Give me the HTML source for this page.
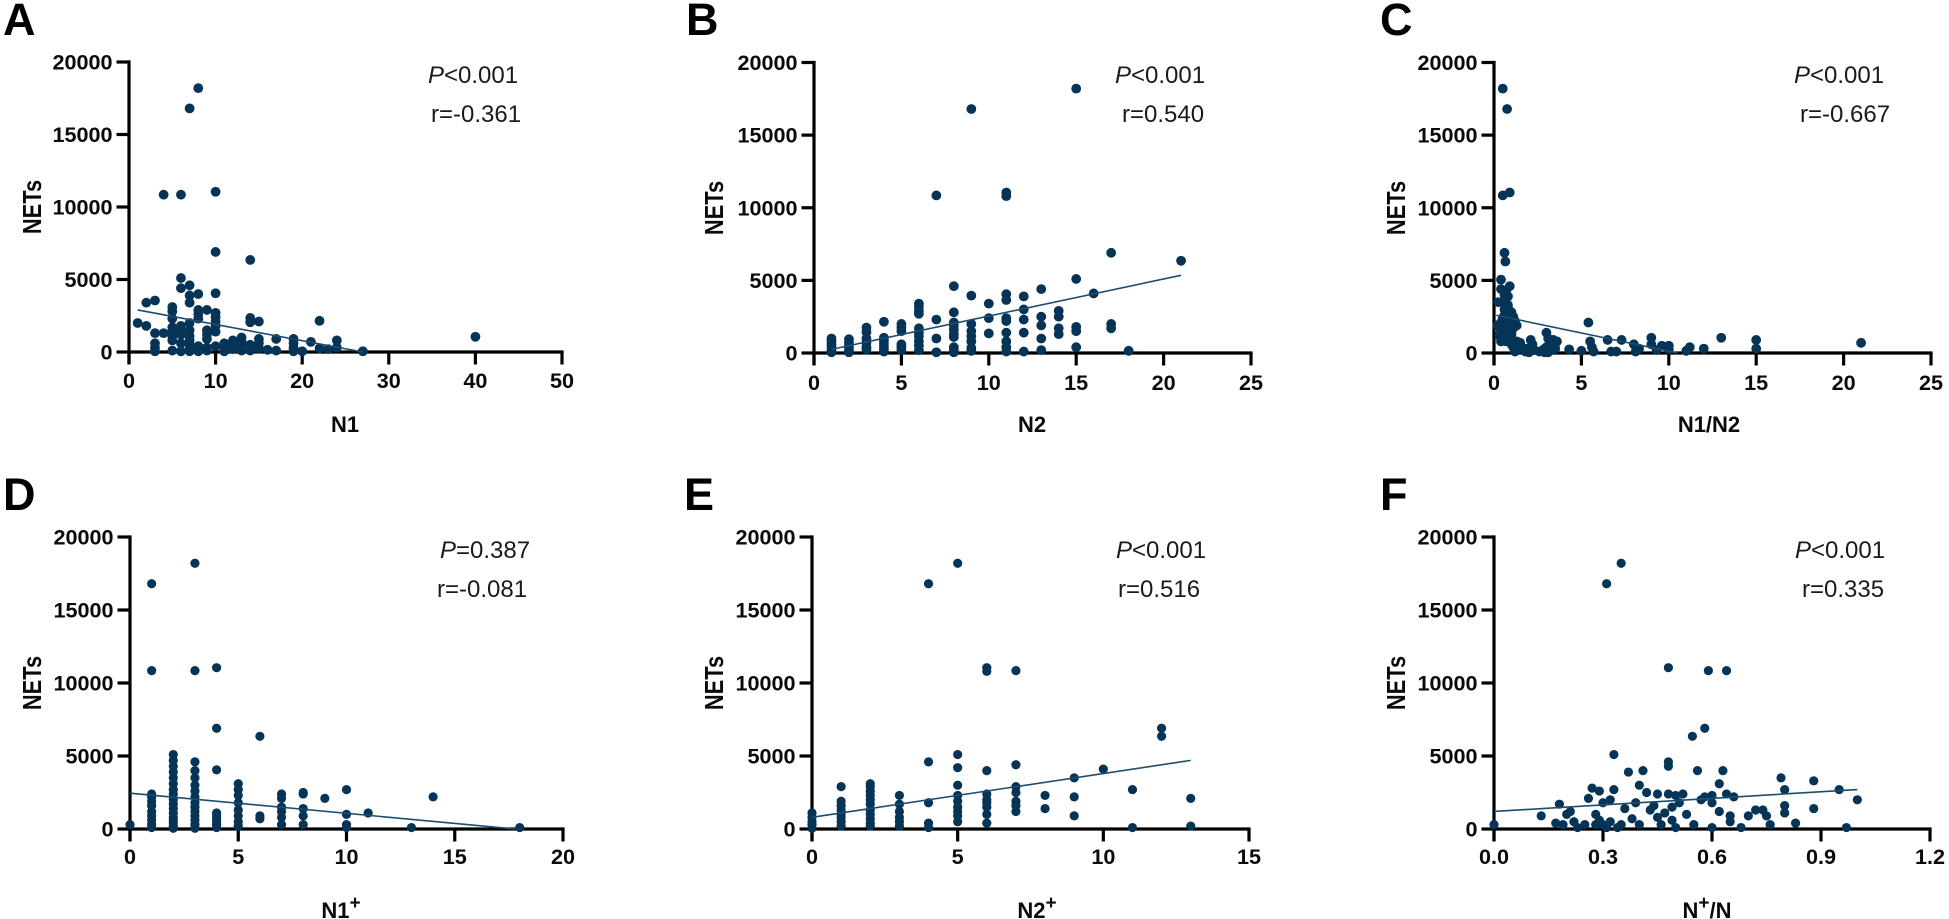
<!DOCTYPE html>
<html lang="en">
<head>
<meta charset="utf-8">
<title>NETs correlation scatter plots</title>
<style>
html,body{margin:0;padding:0;background:#fff;width:1949px;height:919px;overflow:hidden}
svg{display:block}
text{font-family:"Liberation Sans",Arial,sans-serif;fill:#0a0a0a}
.letter{font-size:45px;font-weight:700;fill:#000}
.ytitle{font-size:26px;font-weight:700}
.xtitle{font-size:22px;font-weight:700}
.tick{font-size:21.6px;font-weight:700}
.note{font-size:24px;fill:#1a1a1a}
.note .p{font-style:italic}
</style>
</head>
<body>
<svg id="figure" width="1949" height="919" viewBox="0 0 1949 919" xmlns="http://www.w3.org/2000/svg">
  <rect width="1949" height="919" fill="#fff"/>

  <g id="panel-a">
    <text class="letter" x="3" y="35">A</text>
    <text class="ytitle" transform="translate(41,207) rotate(-90) scale(0.84,1)" text-anchor="middle">NETs</text>
    <text class="xtitle" x="345" y="432" text-anchor="middle">N1</text>
    <text class="note" x="428" y="83"><tspan class="p">P</tspan>&lt;0.001</text>
    <text class="note" x="431" y="122">r=-0.361</text>
  </g>

  <g id="panel-b">
    <text class="letter" x="686" y="35">B</text>
    <text class="ytitle" transform="translate(723,208) rotate(-90) scale(0.84,1)" text-anchor="middle">NETs</text>
    <text class="xtitle" x="1032" y="432" text-anchor="middle">N2</text>
    <text class="note" x="1115" y="83"><tspan class="p">P</tspan>&lt;0.001</text>
    <text class="note" x="1122" y="122">r=0.540</text>
  </g>

  <g id="panel-c">
    <text class="letter" x="1380" y="35">C</text>
    <text class="ytitle" transform="translate(1405,208) rotate(-90) scale(0.84,1)" text-anchor="middle">NETs</text>
    <text class="xtitle" x="1709" y="432" text-anchor="middle">N1/N2</text>
    <text class="note" x="1794" y="83"><tspan class="p">P</tspan>&lt;0.001</text>
    <text class="note" x="1800" y="122">r=-0.667</text>
  </g>

  <g id="panel-d">
    <text class="letter" x="3" y="510">D</text>
    <text class="ytitle" transform="translate(41,683) rotate(-90) scale(0.84,1)" text-anchor="middle">NETs</text>
    <text class="xtitle" x="341" y="918" text-anchor="middle">N1<tspan dy="-9" font-size="19">+</tspan></text>
    <text class="note" x="440" y="558"><tspan class="p">P</tspan>=0.387</text>
    <text class="note" x="437" y="597">r=-0.081</text>
  </g>

  <g id="panel-e">
    <text class="letter" x="684" y="510">E</text>
    <text class="ytitle" transform="translate(723,683) rotate(-90) scale(0.84,1)" text-anchor="middle">NETs</text>
    <text class="xtitle" x="1037" y="918" text-anchor="middle">N2<tspan dy="-9" font-size="19">+</tspan></text>
    <text class="note" x="1116" y="558"><tspan class="p">P</tspan>&lt;0.001</text>
    <text class="note" x="1118" y="597">r=0.516</text>
  </g>

  <g id="panel-f">
    <text class="letter" x="1380" y="510">F</text>
    <text class="ytitle" transform="translate(1405,683) rotate(-90) scale(0.84,1)" text-anchor="middle">NETs</text>
    <text class="xtitle" x="1707" y="918" text-anchor="middle">N<tspan dy="-9" font-size="19">+</tspan><tspan dy="9">/N</tspan></text>
    <text class="note" x="1795" y="558"><tspan class="p">P</tspan>&lt;0.001</text>
    <text class="note" x="1802" y="597">r=0.335</text>
  </g>
</svg>

<script>
// ---- shared y axis ----
const netsTicks = [0, 5000, 10000, 15000, 20000];

// ---- panel A: N1 ----
const xTicksA = [0, 10, 20, 30, 40, 50];
const n1X = [
  1, 2,2, 3,3,3,3,3, 4,4,
  5,5,5,5,5,5,5,5,
  6,6,6,6,6,6,6,6,
  7,7,7,7,7,7,7,7,7,7,7,
  8,8,8,8,8,8,8,8,
  9,9,9,9,9,9,
  10,10,10,10,10,10,10,10,10,
  11,11,11, 12,12,12, 13,13,13,13,
  14,14,14,14,14, 15,15,15,15, 16, 17,17,
  19,19,19,19, 20, 21, 22,22, 23, 24,24, 27, 40
];
const n1Nets = [
  2000, 1800,3400, 3550,1300,600,300,50, 10850,1300,
  3100,2800,2300,1700,1400,1100,800,100,
  10850,5100,4400,1800,1500,1200,600,50,
  16800,4600,3900,3400,2000,1500,1100,800,500,200,50,
  18200,4000,2900,2600,2300,400,150,50,
  2900,1500,1200,900,300,100,
  11050,6900,4050,2700,2400,2100,1800,1400,400,
  50,350,600, 200,500,800, 1000,700,400,100,
  6350,2350,2050,500,100, 2100,900,600,250, 150, 100,900,
  900,600,300,50, 50, 700, 2150,250, 200, 800,300, 50, 1050
];
const fitXA = [1, 27];
const fitYA = [2900, 0];

// ---- panel B: N2 ----
const xTicksB = [0, 5, 10, 15, 20, 25];
const n2X = [
  1,1,1,1,1,1, 2,2,2,2,2,2, 3,3,3,3,3,3, 4,4,4,4,4,4,4,
  5,5,5,5,5,5, 6,6,6,6,6,6,6,6,6,6, 7,7,7,7,
  8,8,8,8,8,8,8,8,8,8, 9,9,9,9,9,9,9,9, 10,10,10,
  11,11,11,11,11,11,11,11,11,11,
  12,12,12,12,12, 13,13,13,13,13, 14,14,14,14,
  15,15,15,15,15, 16, 17,17,17, 18, 21
];
const n2Nets = [
  1000,800,600,400,200,50, 950,750,550,350,150,50, 1750,1450,1000,700,400,250, 2150,1050,850,650,450,250,100,
  2000,1750,1500,600,400,200, 3400,3200,2900,2700,1700,1400,1150,800,500,200, 10850,2300,1000,50,
  4600,2800,2100,1900,1600,1300,1100,400,200,50, 16800,3950,2000,1500,1150,800,350,150, 3400,2400,1350,
  11050,10800,4050,3650,2400,2200,1400,800,400,100,
  3900,3000,2300,1400,100, 4400,2500,1900,1000,200, 2900,2500,1700,1300,
  18200,5100,1800,1500,400, 4100, 6900,2000,1700, 150, 6350
];
const fitXB = [1, 21];
const fitYB = [250, 5350];

// ---- panel C: N1/N2 ----
const xTicksC = [0, 5, 10, 15, 20, 25];
const ratioX = [
  0.5,0.75,0.5,0.9,0.6,0.65,0.4,0.9,0.4,0.7,0.6,0.8,0.25,0.5,0.7,0.8,0.6,0.9,1.0,0.6,0.8,1.1,
  0.5,0.7,0.9,1.2,0.4,0.7,1.0,1.2,1.3,0.2,0.5,0.8,1.1,0.4,0.7,1.0,0.3,0.6,0.9,0.4,0.7,
  1.0,1.1,1.2,1.3,1.5,1.5,1.8,1.9,2.0,2.1,2.2,2.3,2.0,2.6,2.8,2.9,3.0,3.0,3.0,3.1,3.2,3.3,3.3,3.4,3.5,3.5,3.6,2.9,3.1,4.3,
  5.4,5.0,5.5,5.6,5.7,6.5,6.7,7,7.3,8,8.3,8.1,9,9,9.3,9.6,10,10,11,11.2,12,13,15,15,21
];
const ratioNets = [
  18200,16800,10850,11050,6900,6300,5050,4600,4400,4300,4000,3900,3500,3500,3400,3300,3000,2900,2800,2600,2500,2500,
  2400,2300,2200,2200,2100,2000,2000,1900,1900,1900,1800,1700,1700,1500,1400,1300,1200,1100,1100,800,800,
  600,400,100,800,700,300,100,300,100,900,600,200,50,100,200,300,1400,400,100,1000,700,500,200,900,600,300,800,50,50,250,
  2100,150,800,400,100,900,100,100,900,600,300,100,1050,600,200,500,500,250,150,400,300,1050,900,300,700
];
const fitXC = [0.13, 10.5];
const fitYC = [2600, 0];

// ---- panel D: N1+ ----
const xTicksD = [0, 5, 10, 15, 20];
const n1PosX = [
  0, 1,1,1,1,1,1,1,1,1,1,1,
  2,2,2,2,2,2,2,2,2,2,2,2,2,2,2,2,2,
  3,3,3,3,3,3,3,3,3,3,3,3,3,3,3,
  4,4,4,4,4,4,4,4,4,
  5,5,5,5,5,5,5,5, 6,6,6,
  7,7,7,7,7,7, 8,8,8,8,8, 9, 10,10,10,10, 11, 13, 14, 18
];
const n1PosNets = [
  300, 16800,10850,2400,2200,1900,1600,1200,900,600,300,100,
  5100,4700,4300,3900,3500,3100,2700,2400,2000,1700,1400,1100,800,600,400,200,50,
  18200,10850,4600,4000,3500,3000,2600,2200,1800,1500,1200,900,600,300,50,
  11050,6900,4050,1100,900,700,500,300,100,
  3100,2700,2300,1800,1300,900,500,200, 6350,900,700,
  2400,2100,1500,1200,800,300, 2500,2400,1400,900,300, 2100, 2700,1000,300,100, 1100, 100, 2200, 100
];
const fitXD = [0, 17.8];
const fitYD = [2450, 0];

// ---- panel E: N2+ ----
const xTicksE = [0, 5, 10, 15];
const n2PosX = [
  0,0,0,0,0, 1,1,1,1,1,1,1,1,
  2,2,2,2,2,2,2,2,2,2,2, 3,3,3,3,3,3,
  4,4,4,4,4, 5,5,5,5,5,5,5,5,5,5,
  6,6,6,6,6,6,6,6,6, 7,7,7,7,7,7,7,
  8,8, 9,9,9, 10, 11,11, 12,12, 13,13
];
const n2PosNets = [
  1100,800,500,300,50, 2900,1900,1600,1300,1000,800,500,200,
  3100,2900,2600,2300,2000,1700,1300,1000,700,400,200, 2300,1700,1200,800,500,200,
  16800,4600,1800,400,100, 18200,5100,4200,3000,2300,1900,1500,1200,900,500,
  11050,10800,4000,2400,2000,1800,1500,1000,400, 10850,4400,2900,2500,1900,1600,1200,
  2300,1400, 3500,2200,900, 4100, 2700,100, 6900,6350, 2100,200
];
const fitXE = [0, 13];
const fitYE = [800, 4700];

// ---- panel F: N+/N ----
const xTicksF = [0, 0.3, 0.6, 0.9, 1.2];
const fractionX = [
  0,0.13,0.17,0.18,0.19,0.2,0.21,0.22,0.23,0.25,0.26,0.27,0.28,0.28,0.29,0.29,0.3,0.3,0.31,0.31,
  0.32,0.32,0.33,0.33,0.34,0.35,0.35,0.36,0.37,0.38,0.39,0.4,0.4,0.41,0.42,0.43,0.44,0.45,0.45,0.46,
  0.47,0.48,0.48,0.48,0.48,0.49,0.49,0.5,0.5,0.51,0.52,0.53,0.546,0.55,0.56,0.57,0.58,0.58,0.59,0.6,
  0.6,0.6,0.62,0.62,0.63,0.64,0.64,0.65,0.65,0.66,0.68,0.7,0.72,0.74,0.75,0.76,0.79,0.8,0.8,0.8,
  0.83,0.88,0.88,0.95,0.97,1
];
const fractionNets = [
  300,900,400,1700,300,1000,1200,500,100,300,2100,2800,1000,300,2600,600,1800,300,16800,100,
  500,2000,5100,2700,100,18200,300,1400,3900,700,1800,300,3000,4000,2500,1300,1600,800,2400,300,
  1100,11050,4600,4300,2400,1500,600,100,2300,1800,2400,1000,6350,300,4000,2000,6900,2200,10850,2300,
  100,1800,1200,3100,4000,10850,2400,500,900,2200,100,900,1300,1300,900,300,3500,2700,1100,1600,
  400,3300,1400,2700,100,2000
];
const fitXF = [0, 1];
const fitYF = [1200, 2700];

// ---- layout ----
const SVG_NS = 'http://www.w3.org/2000/svg';
const INK = '#000';
const DOT = '#053457';
const FIT = '#1c4d70';

function xScale(panel, v) {
  return panel.left + (v - panel.xMin) / (panel.xMax - panel.xMin) * (panel.right - panel.left);
}
function yScale(panel, v) {
  return panel.bottom - v / 20000 * (panel.bottom - panel.top);
}
function svgNode(tag, parent) {
  const node = document.createElementNS(SVG_NS, tag);
  parent.appendChild(node);
  return node;
}
function drawLine(parent, x1, y1, x2, y2, colour, width) {
  const line = svgNode('line', parent);
  line.setAttribute('x1', x1);
  line.setAttribute('y1', y1);
  line.setAttribute('x2', x2);
  line.setAttribute('y2', y2);
  line.setAttribute('stroke', colour);
  line.setAttribute('stroke-width', width);
  return line;
}

function drawPanel(panel) {
  const root = document.getElementById('panel-' + panel.id);
  const axisWidth = 3.2;

  // y axis
  const yAxis = drawLine(root, panel.left, panel.top - axisWidth / 2, panel.left, panel.bottom + panel.tickLen, INK, axisWidth);
  
  
  netsTicks.forEach(function (t) {
    const y = yScale(panel, t);
    const tick = drawLine(root, panel.left - panel.tickLen, y, panel.left, y, INK, axisWidth);
    
    
    const label = svgNode('text', root);
    label.setAttribute('class', 'tick');
    label.setAttribute('x', panel.left - panel.tickLen - 4);
    label.setAttribute('y', y + 7.5);
    label.setAttribute('text-anchor', 'end');
    
    
    label.textContent = String(t);
  });

  // x axis
  const lastX = xScale(panel, panel.xTicks[panel.xTicks.length - 1]);
  const xAxis = drawLine(root, panel.left, panel.bottom, lastX + axisWidth / 2, panel.bottom, INK, axisWidth);
  
  
  panel.xTicks.forEach(function (t) {
    const x = xScale(panel, t);
    const tick = drawLine(root, x, panel.bottom, x, panel.bottom + panel.tickLen, INK, axisWidth);
    
    
    const label = svgNode('text', root);
    label.setAttribute('class', 'tick');
    label.setAttribute('x', x);
    label.setAttribute('y', panel.tickBase);
    label.setAttribute('text-anchor', 'middle');
    
    
    label.textContent = panel.decimals ? t.toFixed(panel.decimals) : String(t);
  });

  // points
  const count = Math.min(panel.xs.length, panel.ys.length);
  for (let i = 0; i < count; i++) {
    const dot = svgNode('circle', root);
    dot.setAttribute('cx', xScale(panel, panel.xs[i]));
    dot.setAttribute('cy', yScale(panel, panel.ys[i]));
    dot.setAttribute('r', panel.radius);
    dot.setAttribute('fill', DOT);
    
    
  }

  // regression line
  const fit = drawLine(root, xScale(panel, panel.fitX[0]), yScale(panel, panel.fitY[0]), xScale(panel, panel.fitX[1]), yScale(panel, panel.fitY[1]), FIT, 1.6);
  
  
}

const panels = [
  {id:'a', left:129, right:562,  top:62,  bottom:352, xMin:0, xMax:50,  tickLen:12.5, tickBase:388, radius:4.9, xTicks:xTicksA, xs:n1X,       ys:n1Nets,       fitX:fitXA, fitY:fitYA},
  {id:'b', left:814, right:1251, top:62.5,bottom:353, xMin:0, xMax:25,  tickLen:12.5, tickBase:390, radius:4.9, xTicks:xTicksB, xs:n2X,       ys:n2Nets,       fitX:fitXB, fitY:fitYB},
  {id:'c', left:1494,right:1931, top:62.5,bottom:353, xMin:0, xMax:25,  tickLen:12.5, tickBase:390, radius:4.9, xTicks:xTicksC, xs:ratioX,    ys:ratioNets,    fitX:fitXC, fitY:fitYC},
  {id:'d', left:130, right:563,  top:537, bottom:829, xMin:0, xMax:20,  tickLen:12.5, tickBase:864, radius:4.6, xTicks:xTicksD, xs:n1PosX,    ys:n1PosNets,    fitX:fitXD, fitY:fitYD},
  {id:'e', left:812, right:1249, top:537, bottom:829, xMin:0, xMax:15,  tickLen:12.5, tickBase:864, radius:4.6, xTicks:xTicksE, xs:n2PosX,    ys:n2PosNets,    fitX:fitXE, fitY:fitYE},
  {id:'f', left:1494,right:1930, top:537, bottom:829, xMin:0, xMax:1.2, tickLen:12.5, tickBase:864, radius:4.6, decimals:1, xTicks:xTicksF, xs:fractionX, ys:fractionNets, fitX:fitXF, fitY:fitYF}
];
panels.forEach(drawPanel);
</script>
</body>
</html>
